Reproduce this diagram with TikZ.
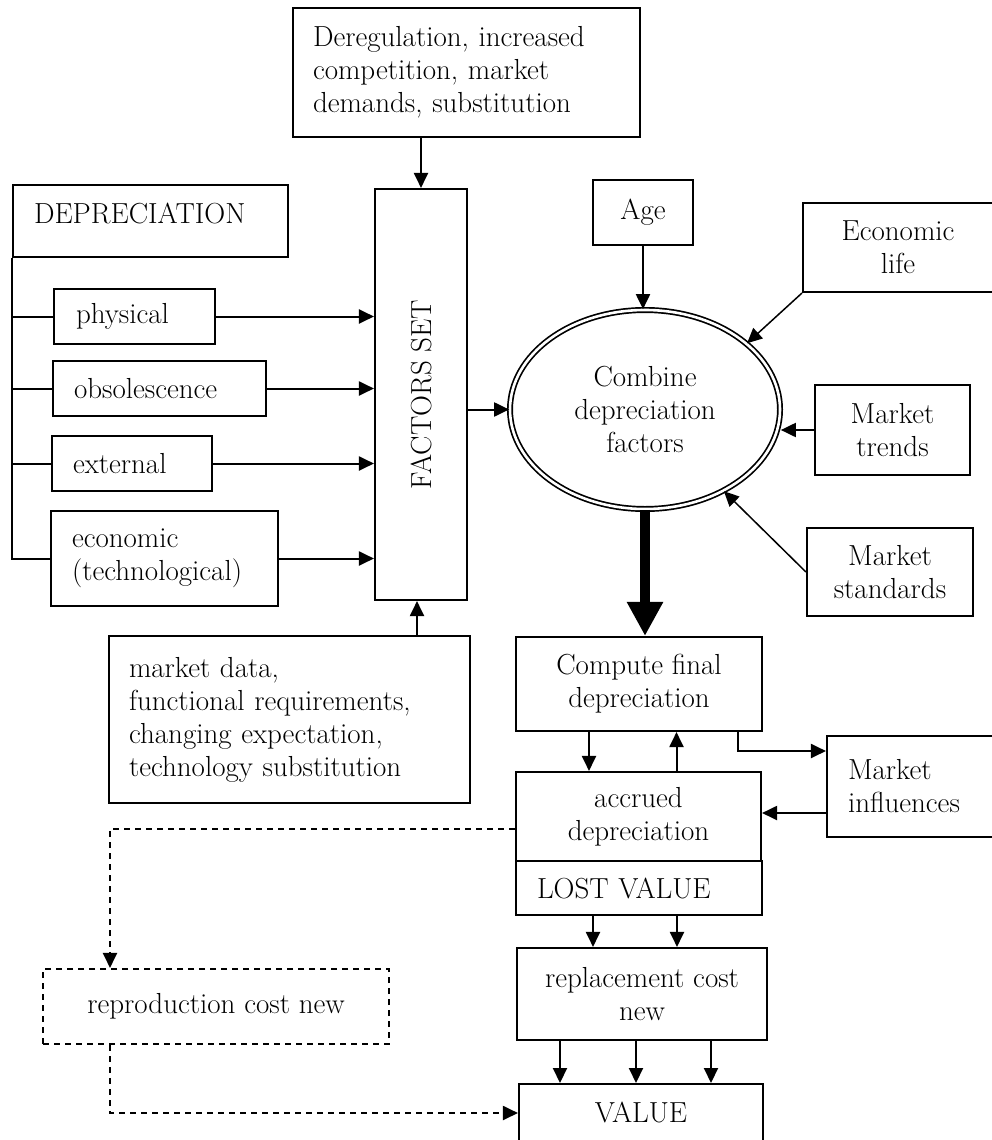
\documentclass[tikz,border=0pt]{standalone}
\usepackage{tikz}
\usetikzlibrary{shapes.geometric,arrows.meta,calc}
\tikzset{
  dbox/.style={draw,line width=2.1pt,inner sep=0pt,align=center,font=\fontsize{29}{33}\selectfont},
  dboxl/.style={dbox,align=left},
  dflow/.style={-{Triangle[length=15pt,width=14pt]},line width=2pt},
  dthin/.style={dflow,line width=1.5pt},
  ddash/.style={dflow,dash pattern=on 6pt off 5pt},
  dfat/.style={-{Triangle[length=34pt,width=34pt]},line width=10pt},
}
\begin{document}
\begin{tikzpicture}[x=1pt,y=-1pt]
  \useasboundingbox (0,0) rectangle (992,1140);
  \clip (0,0) rectangle (992,1140);
  \node[dboxl,text width=233pt,inner xsep=21pt,minimum height=72pt,text depth=16pt] (dep) at (150.5,221) {DEPRECIATION};
  \node[dboxl,text width=117pt,inner xsep=22pt,minimum height=55pt] (phys) at (134.5,316.5) {physical};
  \node[dboxl,text width=171pt,inner xsep=21pt,minimum height=55pt] (obs) at (159.5,388.5) {obsolescence};
  \node[dboxl,text width=118pt,inner xsep=21pt,minimum height=55pt] (ext) at (132,463.5) {external};
  \node[dboxl,text width=185pt,inner xsep=21pt,minimum height=95pt] (econ) at (164.5,558.5) {economic\\(technological)};
  \node[dbox,minimum width=92pt,minimum height=411pt] (fac) at (421,394.5) {\rotatebox{90}{FACTORS SET}};
  \node[dboxl,text width=307pt,inner xsep=20pt,minimum height=129pt] (dereg) at (466.5,72.5) {Deregulation, increased\\competition, market\\demands, substitution};
  \node[dboxl,text width=321pt,inner xsep=20pt,minimum height=167pt] (mdata) at (289.5,719.5) {market data,\\functional requirements,\\changing expectation,\\technology substitution};
  \node[dbox,minimum width=100pt,minimum height=65pt] (age) at (643,212.5) {Age};
  \node[dbox,minimum width=190pt,minimum height=89pt] (eco) at (898,247.5) {Economic\\life};
  \node[dbox,ellipse,double,line width=1.7pt,double distance=2.6pt,minimum width=270pt,minimum height=199pt] (comb) at (645,409.5) {Combine\\depreciation\\factors};
  \node[dbox,minimum width=155pt,minimum height=90pt] (trends) at (892.5,430) {Market\\trends};
  \node[dbox,minimum width=166pt,minimum height=88pt] (stand) at (890,572) {Market\\standards};
  \node[dbox,minimum width=246pt,minimum height=94pt] (comp) at (639,684) {Compute final\\depreciation};
  \node[dbox,minimum width=245pt,minimum height=89pt] (acc) at (638.5,816.5) {accrued\\depreciation};
  \node[dboxl,text width=204pt,inner xsep=21pt,minimum height=54pt] (lost) at (639,888) {LOST VALUE};
  \node[dboxl,text width=126pt,inner xsep=21pt,minimum height=101pt] (mi) at (911,786.5) {Market\\influences};
  \node[dbox,minimum width=250pt,minimum height=92pt] (repl) at (642,994) {replacement cost\\new};
  \node[dbox,anchor=north,minimum width=244pt,inner ysep=18pt,text depth=40pt] (value) at (641,1083) {VALUE};
  \node[dbox,dash pattern=on 6pt off 5pt,minimum width=346pt,minimum height=75pt] (repro) at (216,1006.5) {reproduction cost new};

  \draw[line width=2pt] (dep.south west) |- (econ.west);
  \foreach \n in {phys,obs,ext}{\draw[line width=2pt] (dep.south west |- \n.west) -- (\n.west);}
  \foreach \n in {phys,obs,ext,econ}{\draw[dflow] (\n.east) -- (\n.east -| fac.west);}
  \draw[dflow] (dereg.south -| fac.north) -- (fac.north);
  \draw[dflow] ([xshift=-4pt]mdata.north -| fac.south) -- ([xshift=-4pt]fac.south);
  \draw[dflow] (fac.east |- comb.west) -- (comb.west);
  \draw[dflow] (age.south) -- (age.south |- comb.north);
  \draw[dthin] (eco.south west) -- (comb.33);
  \draw[dflow] (trends.west) -- (trends.west -| comb.east);
  \draw[dthin] (stand.west) -- (comb.-46);
  \draw[dfat] (comb.south) -- (comb.south |- comp.north);
  \draw[dflow] ([xshift=-50pt]comp.south) -- ([xshift=-50pt]comp.south |- acc.north);
  \draw[dflow] ([xshift=38pt]acc.north) -- ([xshift=38pt]acc.north |- comp.south);
  \draw[dflow] ([xshift=99pt]comp.south) |- ([yshift=35.5pt]mi.west);
  \draw[dflow] ([yshift=-26.5pt]mi.west) -- ([yshift=-26.5pt]mi.west -| acc.east);
  \foreach \dx in {-46,38}{\draw[dflow] ([xshift=\dx pt]lost.south) -- ([xshift=\dx pt]lost.south |- repl.north);}
  \foreach \dx in {-82,-6,69}{\draw[dflow] ([xshift=\dx pt]repl.south) -- ([xshift=\dx pt]repl.south |- value.north);}
  \draw[ddash] ([yshift=-12.5pt]acc.west) -| ([xshift=-106pt]repro.north);
  \draw[ddash] ([xshift=-106pt]repro.south) |- ([yshift=-30pt]value.north west);
\end{tikzpicture}
\end{document}
